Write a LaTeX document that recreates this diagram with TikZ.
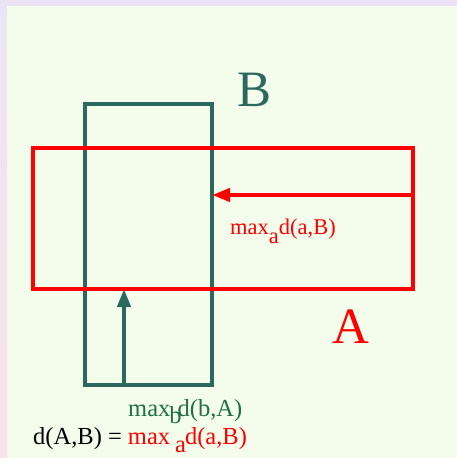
\documentclass[tikz,border=0pt]{standalone}
\usepackage{fontspec}
\setmainfont{Liberation Serif}
\usetikzlibrary{arrows.meta}
\definecolor{bgin}{RGB}{244,253,236}
\definecolor{bglav}{RGB}{236,228,246}
\definecolor{bgpink}{RGB}{250,228,236}
\definecolor{tealB}{RGB}{44,104,94}
\definecolor{greentxt}{RGB}{30,110,70}
\definecolor{redA}{RGB}{255,0,0}
\begin{document}
\begin{tikzpicture}[x=1pt,y=-1pt,
  boxstyle/.style={draw,line width=4.5pt,inner sep=0pt,outer sep=0pt,fill=none},
  arrowstyle/.style={line width=4.2pt,-{Triangle[length=18pt,width=13pt]}},
  lbl/.style={inner sep=0pt,anchor=base west}]
\useasboundingbox (0,0) rectangle (457,458);
\fill[bgin] (0,0) rectangle (457,458);
\fill[bglav] (0,0) rectangle (457,6);
\shade[top color=bglav,bottom color=bgpink] (0,0) rectangle (7,458);
% rectangle B
\node[boxstyle,draw=tealB,minimum width=127pt,minimum height=281pt] (rB) at (148.5,244.5) {};
% rectangle A
\node[boxstyle,draw=redA,minimum width=380pt,minimum height=141pt] (rA) at (223,218.5) {};
% arrows
\coordinate (ra) at (rA.east |- 0,195);
\coordinate (rb) at (rB.east |- 0,195);
\draw[arrowstyle,redA] (ra) -- (rb);
\coordinate (ga) at (rB.south -| 124,0);
\coordinate (gb) at (rA.south -| 124,0);
\draw[arrowstyle,tealB] (ga) -- (gb);
% labels
\node[lbl,text=tealB,font=\fontsize{51}{51}\selectfont] (lB) at (237,106) {B};
\node[lbl,text=redA,font=\fontsize{51}{51}\selectfont] (lA) at (332,343) {A};
\node[lbl,text=redA,font=\fontsize{22.5}{22.5}\selectfont] (l1) at (230,234) {max\raisebox{-9pt}{a}d(a,B)};
\node[lbl,text=greentxt,font=\fontsize{24.5}{24.5}\selectfont] (l2) at (128,416) {max\hspace{-1pt}\raisebox{-7pt}{b}\hspace{-4pt}d(b,A)};
\node[lbl,font=\fontsize{24.5}{24.5}\selectfont] (l3) at (33,444) {d(A,B) = \textcolor{redA}{max\hspace{5pt}\raisebox{-8pt}{a}\hspace{-1pt}d(a,B)}};
\end{tikzpicture}
\end{document}
